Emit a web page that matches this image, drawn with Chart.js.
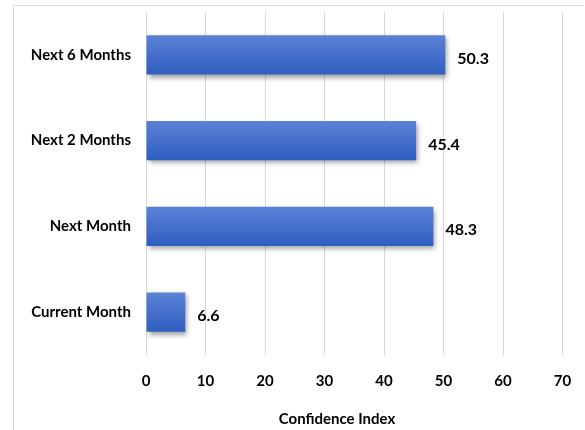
<!DOCTYPE html>
<html>
<head>
<meta charset="utf-8">
<script src="https://cdn.jsdelivr.net/npm/chart.js@4"></script>
<style>
html,body{margin:0;padding:0;background:#fff;overflow:hidden;}
#wrap{width:585px;height:430px;position:relative;}
canvas{display:block;}
</style>
</head>
<body>
<div id="wrap"><canvas id="c" width="585" height="430"></canvas></div>
<script>
const categories = ["Next 6 Months", "Next 2 Months", "Next Month", "Current Month"];
const values = [50.3, 45.4, 48.3, 6.6];
const valueLabels = ["50.3", "45.4", "48.3", "6.6"];
const xTicks = [0, 10, 20, 30, 40, 50, 60, 70];
const axisTitle = "Confidence Index";

const FONT = 'Lato, "Liberation Sans", sans-serif';

const framePlugin = {
  id: 'frame',
  beforeDraw(chart) {
    const ctx = chart.ctx;
    ctx.save();
    ctx.fillStyle = '#ffffff';
    ctx.fillRect(0, 0, 585, 430);
    ctx.strokeStyle = '#d9d9d9';
    ctx.lineWidth = 1;
    ctx.beginPath();
    ctx.moveTo(13.5, 430);
    ctx.lineTo(13.5, 5.5);
    ctx.lineTo(584, 5.5);
    ctx.stroke();
    ctx.restore();
  },
  afterDraw(chart) {
    const ctx = chart.ctx;
    ctx.save();
    ctx.fillStyle = '#ffffff';
    ctx.fillRect(572, 7, 13, 423);
    ctx.restore();
  }
};

const shadowPlugin = {
  id: 'barShadow',
  beforeDatasetDraw(chart) {
    const ctx = chart.ctx;
    ctx.save();
    ctx.shadowColor = 'rgba(0,0,0,0.38)';
    ctx.shadowBlur = 5;
    ctx.shadowOffsetX = 2;
    ctx.shadowOffsetY = 3;
  },
  afterDatasetDraw(chart) {
    chart.ctx.restore();
  }
};

const labelPlugin = {
  id: 'valueLabels',
  afterDatasetsDraw(chart) {
    const ctx = chart.ctx;
    const meta = chart.getDatasetMeta(0);
    ctx.save();
    ctx.fillStyle = '#000';
    ctx.font = 'bold 16px ' + FONT;
    ctx.textAlign = 'left';
    ctx.textBaseline = 'alphabetic';
    meta.data.forEach((bar, i) => {
      ctx.fillText(valueLabels[i], bar.x + 12, bar.y + 9);
    });
    ctx.font = 'bold 15px ' + FONT;
    ctx.textAlign = 'center';
    ctx.fillText(axisTitle, 337, 424);
    ctx.restore();
  }
};

function barFill(context) {
  const chart = context.chart;
  const area = chart.chartArea;
  const ys = chart.scales.y;
  if (!area || !ys) return '#4672cc';
  const cy = ys.getPixelForValue(context.dataIndex);
  if (cy == null || isNaN(cy)) return '#4672cc';
  const g = chart.ctx.createLinearGradient(0, cy - 20, 0, cy + 20);
  g.addColorStop(0, '#5b82d6');
  g.addColorStop(1, '#2f5ec0');
  return g;
}

new Chart(document.getElementById('c'), {
  type: 'bar',
  data: {
    labels: categories,
    datasets: [{
      data: values,
      backgroundColor: barFill,
      borderWidth: 0,
      categoryPercentage: 1,
      barPercentage: 0.46
    }]
  },
  plugins: [framePlugin, shadowPlugin, labelPlugin],
  options: {
    indexAxis: 'y',
    responsive: false,
    animation: false,
    devicePixelRatio: 1,
    layout: { padding: { top: 12, right: 22.5, left: 0, bottom: 0 } },
    plugins: { legend: { display: false }, tooltip: { enabled: false } },
    scales: {
      x: {
        min: 0, max: 70,
        afterBuildTicks(scale) { scale.ticks = xTicks.map(v => ({ value: v })); },
        afterFit(scale) { scale.height = 75; scale.paddingLeft = 0; scale.paddingRight = 0; },
        grid: { color: '#d9d9d9', drawTicks: false, lineWidth: 1 },
        border: { display: false },
        ticks: {
          padding: 17,
          color: '#000',
          font: { family: FONT, size: 15, weight: 'bold' }
        }
      },
      y: {
        afterFit(scale) { scale.width = 146; scale.paddingTop = 0; scale.paddingBottom = 0; },
        grid: { display: false, drawTicks: false },
        border: { display: false },
        ticks: {
          padding: 15,
          color: '#000',
          font: { family: FONT, size: 15, weight: 'bold' }
        }
      }
    }
  }
});
</script>
</body>
</html>
